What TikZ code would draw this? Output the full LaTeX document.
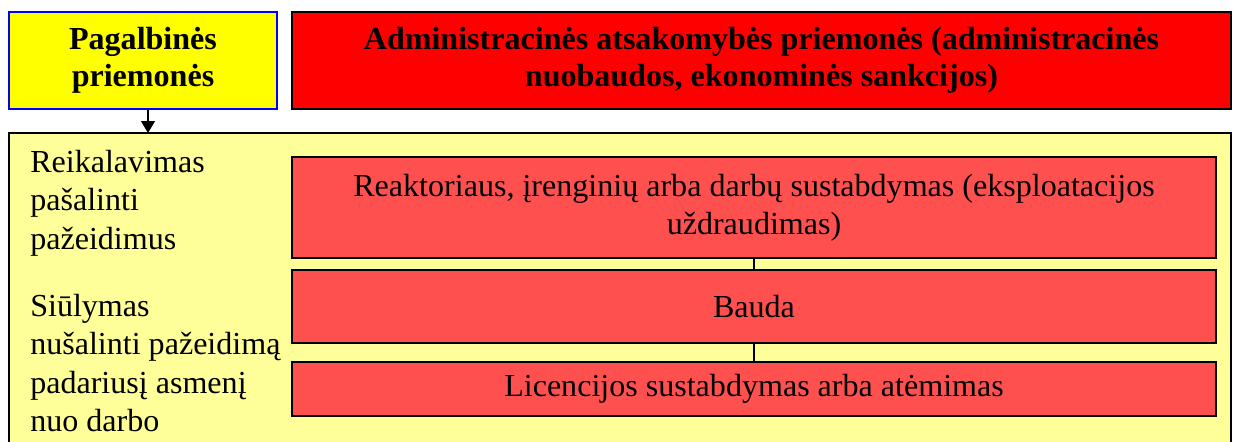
\documentclass[tikz,border=0pt]{standalone}
\usepackage{fontspec}
\setmainfont{Liberation Serif}
\usetikzlibrary{arrows.meta}

\definecolor{geltona}{HTML}{FFFF00}
\definecolor{sviesiai}{HTML}{FFFF99}
\definecolor{raudona}{HTML}{FF0000}
\definecolor{rausva}{HTML}{FF5050}

\begin{document}
\begin{tikzpicture}[x=0.025cm, y=-0.025cm,
    every node/.style={font=\fontsize{22.8}{27.2}\selectfont},
    antraste/.style={draw, line width=1pt, inner sep=0pt, align=center, font=\fontsize{22.8}{26.5}\selectfont\bfseries},
    priemone/.style={draw=black, fill=rausva, line width=1pt, inner sep=0pt, align=center, minimum width=924*0.025cm},
    tekstas/.style={anchor=north west, align=left, inner sep=0pt}]

    \useasboundingbox (0, 0) rectangle (1233, 441);

    % virsutiniai langeliai
    \node[antraste, draw=blue, fill=geltona, minimum width=268*0.025cm, minimum height=97*0.025cm] (pagalb) at (143, 60.5) {Pagalbinės\\priemonės};
    \node[antraste, draw=black, fill=raudona, minimum width=939*0.025cm, minimum height=97*0.025cm] (admin) at (761.5, 60.5) {Administracinės atsakomybės priemonės (administracinės\\nuobaudos, ekonominės sankcijos)};

    % didysis langelis
    \draw[line width=1pt, fill=sviesiai] (9, 133) rectangle (1231, 450);
    \coordinate (virsus) at (148, 133);

    \draw[-{Triangle[length=0.3cm, width=0.35cm]}, line width=0.8pt] (pagalb.south -| virsus) -- (virsus);

    % kairieji tekstai
    \node[tekstas] (reikal) at (30, 150) {Reikalavimas\\pašalinti\\pažeidimus};
    \node[tekstas] (siulym) at (30, 294) {Siūlymas\\nušalinti pažeidimą\\padariusį asmenį\\nuo darbo};

    % sankcijos
    \node[priemone, minimum height=101*0.025cm] (sustabd) at (754, 207.5) {Reaktoriaus, įrenginių arba darbų sustabdymas (eksploatacijos\\uždraudimas)};
    \node[priemone, minimum height=73*0.025cm] (bauda) at (754, 306.5) {Bauda};
    \node[priemone, minimum height=54*0.025cm] (licenc) at (754, 389) {Licencijos sustabdymas arba atėmimas};

    \draw[line width=1pt] (sustabd.south) -- (bauda.north);
    \draw[line width=1pt] (bauda.south) -- (licenc.north);

\end{tikzpicture}
\end{document}
